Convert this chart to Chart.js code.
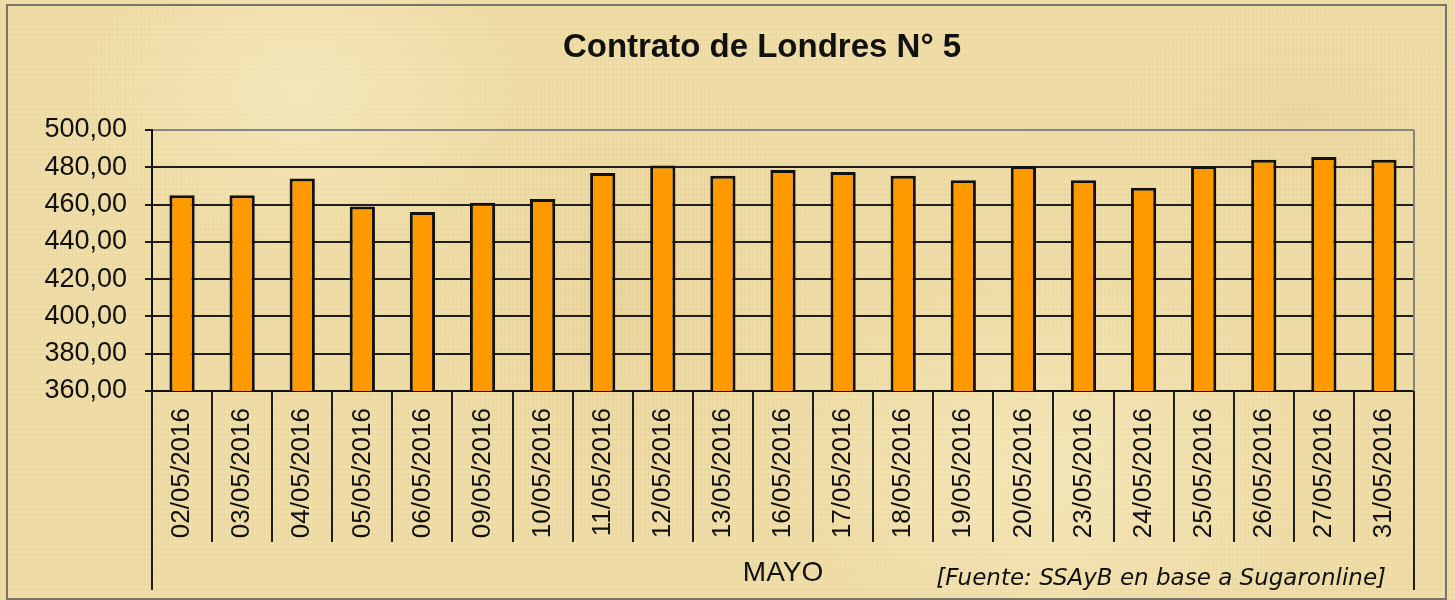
<!DOCTYPE html>
<html>
<head>
<meta charset="utf-8">
<script src="https://cdn.jsdelivr.net/npm/chart.js@4"></script>
<style>
  body { margin: 0; }
  #wrap {
    position: relative;
    width: 1455px;
    height: 600px;
    background-color: #f0dea9;
    background-image:
      radial-gradient(ellipse 220px 160px at 300px 90px, rgba(255, 248, 215, 0.4), transparent),
      radial-gradient(ellipse 260px 200px at 1050px 470px, rgba(255, 248, 215, 0.35), transparent),
      radial-gradient(ellipse 200px 240px at 620px 300px, rgba(200, 160, 90, 0.12), transparent),
      radial-gradient(ellipse 180px 120px at 1300px 120px, rgba(200, 160, 90, 0.1), transparent),
      repeating-linear-gradient(90deg, rgba(150, 110, 40, 0.05) 0 1px, transparent 1px 4px),
      repeating-linear-gradient(0deg, rgba(150, 110, 40, 0.045) 0 1px, transparent 1px 5px);
  }
  #frame {
    position: absolute;
    left: 6px; top: 4px;
    width: 1437px; height: 592px;
    border: 2px solid #7a7468;
    pointer-events: none;
  }
  canvas { position: absolute; left: 0; top: 0; }
</style>
</head>
<body>
<div id="wrap">
  <canvas id="Chart" width="1455" height="600"></canvas>
  <div id="frame"></div>
</div>
<script>
const chartTitle = "Contrato de Londres N° 5";
const groupLabel = "MAYO";
const sourceText = "[Fuente: SSAyB en base a Sugaronline]";

const dates = [
  "02/05/2016", "03/05/2016", "04/05/2016", "05/05/2016", "06/05/2016",
  "09/05/2016", "10/05/2016", "11/05/2016", "12/05/2016", "13/05/2016",
  "16/05/2016", "17/05/2016", "18/05/2016", "19/05/2016", "20/05/2016",
  "23/05/2016", "24/05/2016", "25/05/2016", "26/05/2016", "27/05/2016",
  "31/05/2016"
];
const prices = [
  465, 465, 474, 459, 456,
  461, 463, 477, 481, 475.5,
  478.5, 477.5, 475.5, 473, 480.5,
  473, 469, 480.5, 484, 485.5,
  484
];
const yMin = 360;
const yMax = 500;
const yStep = 20;

const FONT = "Arial, 'Liberation Sans', sans-serif";

// separators under the axis, group label, title and source note
const extras = {
  id: "extras",
  afterDraw(chart) {
    const { ctx, chartArea } = chart;
    const x = chart.scales.x;
    const n = dates.length;
    const step = x.width / n;
    ctx.save();
    ctx.strokeStyle = "#1e1e1e";
    ctx.lineWidth = 2;
    for (let i = 0; i <= n; i++) {
      const px = Math.round(x.left + i * step);
      const len = i === 0 || i === n ? 199 : 151;
      ctx.beginPath();
      ctx.moveTo(px, chartArea.bottom);
      ctx.lineTo(px, chartArea.bottom + len);
      ctx.stroke();
    }
    // right side of the plot frame
    ctx.strokeStyle = "#858585";
    ctx.beginPath();
    ctx.moveTo(chartArea.right, chartArea.top);
    ctx.lineTo(chartArea.right, chartArea.bottom);
    ctx.stroke();

    ctx.fillStyle = "#111";
    ctx.textAlign = "center";
    ctx.textBaseline = "middle";
    ctx.font = "28px " + FONT;
    ctx.fillText(groupLabel, (x.left + x.right) / 2, 573);

    ctx.font = "bold 33px " + FONT;
    ctx.fillText(chartTitle, 762, 48);

    ctx.textAlign = "right";
    ctx.textBaseline = "alphabetic";
    ctx.font = "italic 23px 'DejaVu Sans', sans-serif";
    ctx.fillText(sourceText, 1386, 585);
    ctx.restore();
  }
};

new Chart("Chart", {
  type: "bar",
  data: {
    labels: dates,
    datasets: [
      {
        data: prices,
        backgroundColor: "#ff9900",
        borderColor: "#111",
        borderWidth: 3,
        barPercentage: 0.42,
        categoryPercentage: 1,
      },
    ],
  },
  options: {
    responsive: false,
    animation: false,
    layout: { padding: { left: 0, right: 41, top: 130, bottom: 0 } },
    plugins: {
      legend: { display: false },
      tooltip: { enabled: false },
    },
    scales: {
      x: {
        grid: { display: false, drawTicks: false },
        border: { color: "#111", width: 2 },
        ticks: {
          color: "#111",
          font: { family: FONT, size: 26 },
          minRotation: 90,
          maxRotation: 90,
          padding: 17,
          autoSkip: false,
        },
        afterFit: (scale) => { scale.height = 209; },
      },
      y: {
        min: yMin,
        max: yMax,
        grid: {
          color: (c) => (c.tick && c.tick.value === yMax ? "#858585" : "#1e1e1e"),
          lineWidth: 2,
          tickColor: "#1e1e1e",
          tickLength: 7,
        },
        border: { color: "#111", width: 2 },
        ticks: {
          stepSize: yStep,
          color: "#111",
          padding: 18,
          font: { family: FONT, size: 27 },
          callback: (v) => v.toFixed(2).replace(".", ","),
        },
        afterFit: (scale) => { scale.width = 152; },
      },
    },
  },
  plugins: [extras],
});
</script>
</body>
</html>
